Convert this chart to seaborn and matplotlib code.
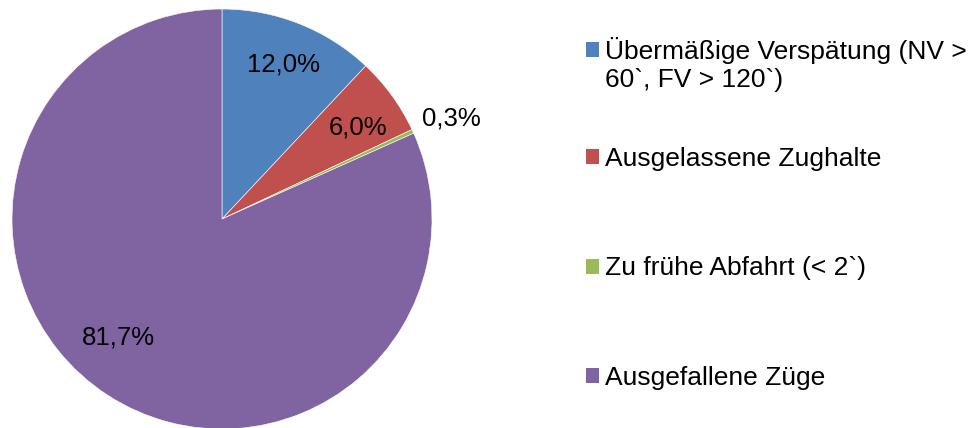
import matplotlib
matplotlib.use("Agg")
import matplotlib.pyplot as plt
import seaborn as sns
import numpy as np
from matplotlib.patches import Patch
from matplotlib.legend_handler import HandlerPatch

sns.set_theme(style="white")
plt.rcParams['font.family'] = ['Liberation Sans', 'DejaVu Sans']
plt.rcParams['text.color'] = 'black'

categories = ["Übermäßige Verspätung (NV >\n60`, FV > 120`)",
              "Ausgelassene Zughalte",
              "Zu frühe Abfahrt (< 2`)",
              "Ausgefallene Züge"]
values = [12.0, 6.0, 0.3, 81.7]
value_labels = ["12,0%", "6,0%", "0,3%", "81,7%"]
colors = ["#4F81BD", "#C0504D", "#9BBB59", "#8064A2"]

W, H = 974, 428
fig = plt.figure(figsize=(W / 100, H / 100), dpi=100)
cx, cy, r = 222, 219, 210
ax = fig.add_axes([(cx - r) / W, (H - cy - r) / H, 2 * r / W, 2 * r / H])

wedges, _ = ax.pie(values, colors=colors, startangle=90, counterclock=False,
                   radius=1.0, wedgeprops=dict(edgecolor="white", linewidth=0.4))
ax.set_xlim(-1, 1)
ax.set_ylim(-1, 1)
ax.set_aspect("equal")
ax.axis("off")

dists = [0.79, 0.78, 1.19, 0.75]
angle_adj = [0, -2, -1, -8]
for w, lab, d, da in zip(wedges, value_labels, dists, angle_adj):
    ang = np.deg2rad((w.theta1 + w.theta2) / 2 + da)
    ax.text(d * np.cos(ang), d * np.sin(ang), lab, ha="center", va="center",
            fontsize=18.5, color="black", clip_on=False)


class ShiftedPatchHandler(HandlerPatch):
    def __init__(self, shift, **kw):
        super().__init__(**kw)
        self.shift = shift

    def create_artists(self, legend, orig_handle, xdescent, ydescent, width,
                       height, fontsize, trans):
        arts = super().create_artists(legend, orig_handle, xdescent, ydescent,
                                      width, height, fontsize, trans)
        for a in arts:
            a.set_y(a.get_y() + self.shift)
        return arts


handles = [Patch(facecolor=c, edgecolor="none") for c in colors]
common = dict(frameon=False, fontsize=19, handlelength=0.49, handleheight=0.49,
              handletextpad=0.23, borderaxespad=0, borderpad=0,
              labelcolor="black")

leg1 = fig.legend(handles[:1], categories[:1], loc="center left",
                  bbox_to_anchor=(586 / W, 1 - 64.5 / H),
                  handler_map={handles[0]: ShiftedPatchHandler(11.2)}, **common)
leg2 = fig.legend(handles[1:], categories[1:], loc="center left",
                  bbox_to_anchor=(586 / W, 1 - 268.5 / H),
                  labelspacing=3.23, **common)

fig.savefig("out.png", dpi=100)
